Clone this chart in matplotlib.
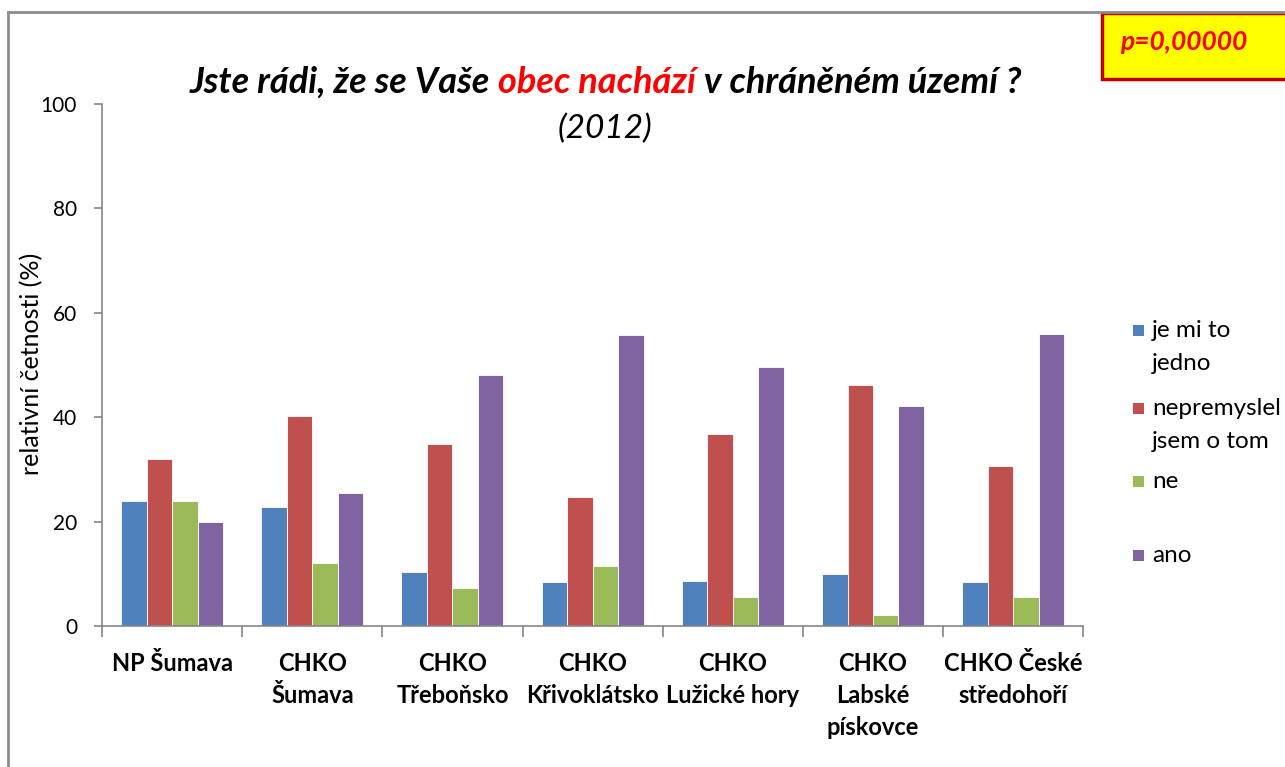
import matplotlib
matplotlib.use("Agg")
import matplotlib.pyplot as plt
import numpy as np
from matplotlib.patches import Rectangle
from matplotlib.offsetbox import TextArea, HPacker, AnnotationBbox

plt.rcParams['font.family'] = ['Lato', 'DejaVu Sans']

categories = ["NP Šumava", "CHKO\nŠumava", "CHKO\nTřeboňsko", "CHKO\nKřivoklátsko",
              "CHKO\nLužické hory", "CHKO\nLabské\npískovce", "CHKO České\nstředohoří"]
series_names = ["je mi to\njedno", "nepremyslel\njsem o tom", "ne", "ano"]
jedno = [23.9, 22.8, 10.3, 8.4, 8.6, 10.0, 8.4]
nepremyslel = [32.0, 40.2, 34.9, 24.7, 36.8, 46.2, 30.7]
ne = [24.0, 12.0, 7.3, 11.5, 5.6, 2.1, 5.6]
ano = [20.0, 25.5, 48.1, 55.7, 49.6, 42.1, 55.9]
colors = ['#4F81BD', '#C0504D', '#9BBB59', '#8064A2']

values = [jedno, nepremyslel, ne, ano]

fig = plt.figure(figsize=(12.85, 7.67), dpi=100)
ax = fig.add_axes([0.0794, 0.1838, 0.7636, 0.6806])

x = np.arange(len(categories))
w = 1 / 5.5
for i, (vals, c) in enumerate(zip(values, colors)):
    ax.bar(x + (i - 1.5) * w, vals, width=w, color=c, edgecolor='white', linewidth=0.6)

ax.set_xlim(-0.5, len(categories) - 0.5)
ax.set_ylim(0, 100)
ax.set_yticks(range(0, 101, 20))
ax.set_xticks(x)
ax.set_xticklabels(categories, fontsize=17, fontweight='bold', linespacing=1.45)
ax.set_xticks(np.arange(-0.5, len(categories)), minor=True)
ax.tick_params(axis='x', which='major', length=0, pad=19)
ax.tick_params(axis='x', which='minor', length=8, color='#868686', width=1.2)
ax.tick_params(axis='y', length=6, color='#868686', width=1.2, labelsize=15, pad=12)
for side in ['top', 'right']:
    ax.spines[side].set_visible(False)
for side in ['left', 'bottom']:
    ax.spines[side].set_color('#868686')
    ax.spines[side].set_linewidth(1.2)
for lbl in ax.get_xticklabels():
    lbl.set_verticalalignment('top')

fig.text(0.025, 0.525, "relativní četnosti (%)", rotation=90, fontsize=18,
         ha='center', va='center')

# title with red part
parts = [("Jste rádi, že se Vaše ", 'black'), ("obec nachází", 'red'),
         (" v chráněném území ?", 'black')]
boxes = [TextArea(t, textprops=dict(color=c, fontsize=26, fontweight='bold',
                                    fontstyle='italic')) for t, c in parts]
title = HPacker(children=boxes, align='baseline', pad=0, sep=0)
ab = AnnotationBbox(title, (0.471, 0.893), xycoords='figure fraction', frameon=False,
                    box_alignment=(0.5, 0.5))
fig.add_artist(ab)
fig.text(0.471, 0.832, "(2012)", fontsize=24, fontstyle='italic', ha='center', va='center')

# p-value box
fig.patches.append(Rectangle((1102 / 1285, 1 - 79 / 767), 0.2, 66 / 767,
                             transform=fig.transFigure, facecolor='#FFFF00',
                             edgecolor='#C00000', linewidth=2.5, clip_on=False))
fig.text(1184 / 1285, 1 - 42 / 767, "p=0,00000", color='red', fontsize=19,
         fontweight='bold', fontstyle='italic', ha='center', va='center')

# outer chart border
fig.add_artist(plt.Line2D([8 / 1285, 1.0], [1 - 12 / 767, 1 - 12 / 767],
                          transform=fig.transFigure, color='#8C8C8C', linewidth=2))
fig.add_artist(plt.Line2D([8 / 1285, 8 / 1285], [0, 1 - 12 / 767],
                          transform=fig.transFigure, color='#8C8C8C', linewidth=2))

# legend drawn by hand (top-aligned entries like the original)
leg_y = [330, 408, 481, 555]
for name, c, yy in zip(series_names, colors, leg_y):
    fig.patches.append(Rectangle((1133 / 1285, 1 - (yy + 6) / 767), 11 / 1285, 11 / 767,
                                 transform=fig.transFigure, facecolor=c, edgecolor='none'))
    fig.text(1152 / 1285, 1 - (yy - 10) / 767, name, fontsize=17.5, ha='left', va='top',
             linespacing=1.7)

fig.savefig("out.png", dpi=100)
